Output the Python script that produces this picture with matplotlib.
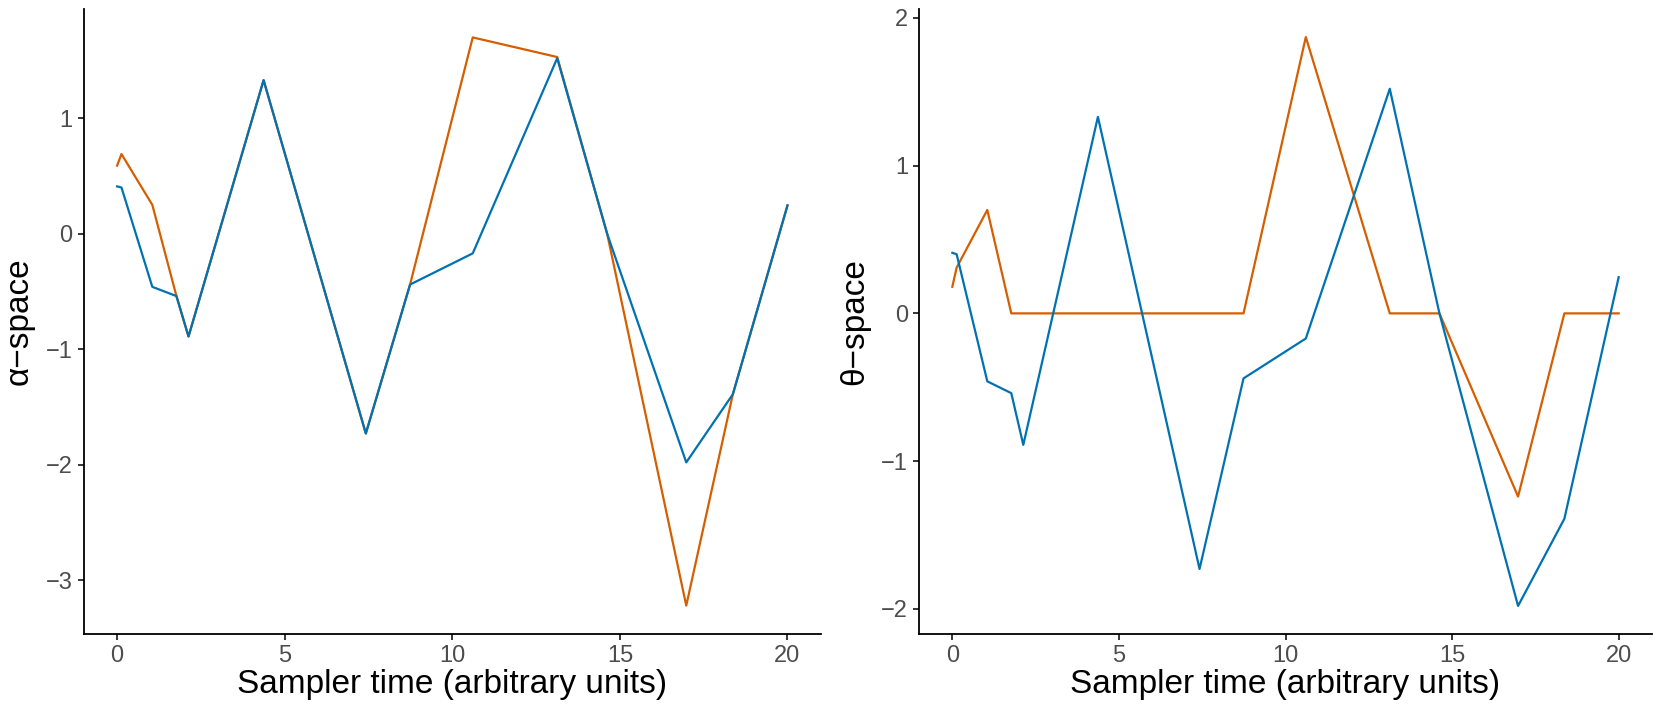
import matplotlib
matplotlib.use('Agg')
import matplotlib.pyplot as plt

# sampler times shared by every trajectory
t = [0, 0.13, 1.05, 1.77, 2.13, 4.37, 7.42, 8.74, 10.61, 13.13, 14.62, 16.98, 18.37, 20]

# blue path (same on both panels)
blue = [0.41, 0.40, -0.46, -0.54, -0.89, 1.33, -1.73, -0.44, -0.17, 1.52, 0.0, -1.98, -1.39, 0.245]

# orange paths
alpha_orange = [0.59, 0.69, 0.25, -0.54, -0.89, 1.33, -1.73, -0.44, 1.70, 1.53, 0.0, -3.22, -1.39, 0.245]
theta_orange = [0.18, 0.31, 0.70, 0.0, 0.0, 0.0, 0.0, 0.0, 1.87, 0.0, 0.0, -1.24, 0.0, 0.0]

BLUE = '#0072B2'
ORANGE = '#D55E00'

plt.rcParams['font.family'] = ['Liberation Sans', 'DejaVu Sans']

fig = plt.figure(figsize=(16.61, 7.12), dpi=100)
W, H = 1661, 712
ax1 = fig.add_axes([83.6 / W, 1 - 634 / H, (821 - 83.6) / W, (634 - 9) / H])
ax2 = fig.add_axes([919 / W, 1 - 634 / H, (1652 - 919) / W, (634 - 9) / H])


def style(ax, ylabel, yticks):
    for s in ['top', 'right']:
        ax.spines[s].set_visible(False)
    for s in ['left', 'bottom']:
        ax.spines[s].set_linewidth(1.3)
    ax.set_xlim(-1, 21)
    ax.set_xticks([0, 5, 10, 15, 20])
    ax.set_yticks(yticks)
    ax.set_yticklabels([str(v).replace('-', '\u2212') for v in yticks])
    ax.tick_params(labelsize=17, colors='black', labelcolor='#4D4D4D', length=4, width=1.1, pad=4)
    ax.set_xlabel('Sampler time (arbitrary units)', fontsize=24, labelpad=1)
    ax.set_ylabel(ylabel, fontsize=24, labelpad=8)


ax1.plot(t, alpha_orange, color=ORANGE, lw=1.6)
ax1.plot(t, blue, color=BLUE, lw=1.6)
ax1.set_ylim(-3.466, 1.946)
style(ax1, '\u03b1\u2212space', [-3, -2, -1, 0, 1])

ax2.plot(t, theta_orange, color=ORANGE, lw=1.6)
ax2.plot(t, blue, color=BLUE, lw=1.6)
ax2.set_ylim(-2.17, 2.06)
style(ax2, '\u03b8\u2212space', [-2, -1, 0, 1, 2])

fig.savefig('out.png', dpi=100)
